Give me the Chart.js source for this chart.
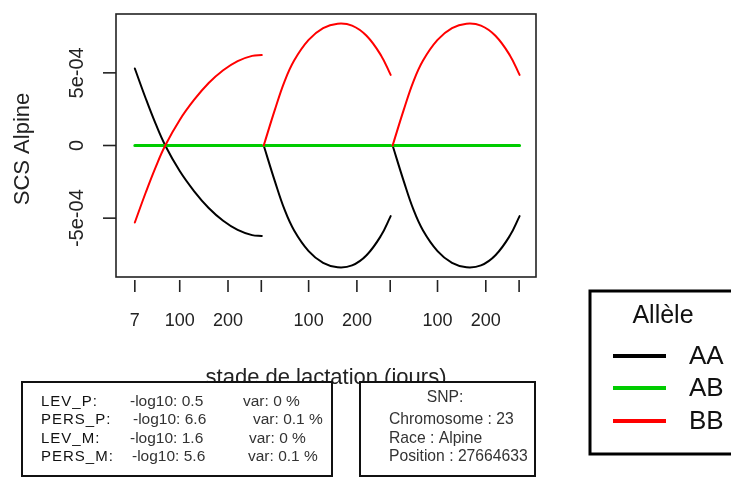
<!DOCTYPE html>
<html>
<head>
<meta charset="utf-8">
<script src="https://cdn.jsdelivr.net/npm/chart.js@4.4.1/dist/chart.umd.min.js"></script>
<style>
  body { margin: 0; background: #fff; }
  canvas { display: block; }
</style>
</head>
<body>
<canvas id="chart-scs" width="731" height="486"></canvas>
<script>
// days in lactation where values were read (same for each of the 3 lactations)
var days = [7, 30, 50, 70, 100, 130, 160, 190, 220, 250, 270];
var lactationShift = 267; // x offset between consecutive lactations

// SCS effect per allele, units of 1e-4, one array per lactation
var aaLact1 = [5.30, 3.20, 1.50, 0, -1.76, -3.15, -4.30, -5.18, -5.81, -6.17, -6.22];
var aaLact2 = [0, -2.45, -4.40, -5.85, -7.27, -8.08, -8.38, -8.25, -7.55, -6.20, -4.86];
var aaLact3 = [0, -2.45, -4.40, -5.85, -7.27, -8.08, -8.38, -8.25, -7.55, -6.20, -4.86];
var abLact1 = [0, 0, 0, 0, 0, 0, 0, 0, 0, 0, 0];
var abLact2 = [0, 0, 0, 0, 0, 0, 0, 0, 0, 0, 0];
var abLact3 = [0, 0, 0, 0, 0, 0, 0, 0, 0, 0, 0];
var bbLact1 = [-5.30, -3.20, -1.50, 0, 1.76, 3.15, 4.30, 5.18, 5.81, 6.17, 6.22];
var bbLact2 = [0, 2.45, 4.40, 5.85, 7.27, 8.08, 8.38, 8.25, 7.55, 6.20, 4.86];
var bbLact3 = [0, 2.45, 4.40, 5.85, 7.27, 8.08, 8.38, 8.25, 7.55, 6.20, 4.86];

// axis ticks
var xTicks = [7, 100, 200, 269, 367, 467, 536, 634, 734, 803];
var xTickLabels = ["7", "100", "200", "", "100", "200", "", "100", "200", ""];
var yTicks = [-5e-4, 0, 5e-4];
var yTickLabels = ["-5e-04", "0", "5e-04"];

// legend + info boxes
var alleles = ["AA", "AB", "BB"];
var alleleColors = ["#000000", "#00cc00", "#ff0000"];
var infoNames = ["LEV_P:", "PERS_P:", "LEV_M:", "PERS_M:"];
var infoLog10 = ["0.5", "6.6", "1.6", "5.6"];
var infoVar = ["0", "0.1", "0", "0.1"];
var snpLines = ["Chromosome : 23", "Race : Alpine", "Position : 27664633"];

var FONT = "'Liberation Sans', Arial, sans-serif";

function buildPoints(lacts) {
    var pts = [];
    lacts.forEach(function(vals, l) {
        if (l > 0) pts.push({ x: l * lactationShift, y: null });
        vals.forEach(function(v, i) {
            pts.push({ x: days[i] + l * lactationShift, y: v * 1e-4 });
        });
    });
    return pts;
}

var series = [
    buildPoints([aaLact1, aaLact2, aaLact3]),
    buildPoints([abLact1, abLact2, abLact3]),
    buildPoints([bbLact1, bbLact2, bbLact3])
];

var decorations = {
    id: "decorations",
    afterDraw: function(chart) {
        var ctx = chart.ctx;
        var area = chart.chartArea;
        var xs = chart.scales.x, ys = chart.scales.y;
        ctx.save();

        // plot box
        ctx.strokeStyle = "#222";
        ctx.lineWidth = 1.6;
        ctx.strokeRect(area.left, area.top, area.right - area.left, area.bottom - area.top);

        // x ticks
        ctx.fillStyle = "#222";
        ctx.font = "18px " + FONT;
        ctx.textAlign = "center";
        ctx.textBaseline = "middle";
        xTicks.forEach(function(v, i) {
            var px = xs.getPixelForValue(v);
            ctx.beginPath();
            ctx.moveTo(px, area.bottom + 3);
            ctx.lineTo(px, area.bottom + 15);
            ctx.stroke();
            if (xTickLabels[i]) ctx.fillText(xTickLabels[i], px, 321);
        });

        // y ticks
        ctx.font = "20px " + FONT;
        yTicks.forEach(function(v, i) {
            var py = ys.getPixelForValue(v);
            ctx.beginPath();
            ctx.moveTo(area.left - 13, py);
            ctx.lineTo(area.left, py);
            ctx.stroke();
            ctx.save();
            ctx.translate(77, py);
            ctx.rotate(-Math.PI / 2);
            ctx.fillText(yTickLabels[i], 0, 0);
            ctx.restore();
        });

        // axis titles
        ctx.font = "22px " + FONT;
        ctx.save();
        ctx.translate(23, 149);
        ctx.rotate(-Math.PI / 2);
        ctx.fillText("SCS Alpine", 0, 0);
        ctx.restore();
        ctx.textBaseline = "alphabetic";
        ctx.fillText("stade de lactation (jours)", 326, 384);

        // info boxes (white, covering the bottom of the x title)
        ctx.lineWidth = 2;
        ctx.strokeStyle = "#111";
        ctx.fillStyle = "#fff";
        ctx.fillRect(22, 382, 310, 94);
        ctx.strokeRect(22, 382, 310, 94);
        ctx.fillRect(360, 382, 175, 94);
        ctx.strokeRect(360, 382, 175, 94);

        var rowY = [402, 420, 439, 457];
        var logX = [130, 133, 130, 132];
        var varX = [243, 253, 249, 248];
        ctx.textAlign = "left";
        ctx.textBaseline = "middle";
        infoNames.forEach(function(name, i) {
            ctx.fillStyle = "#111";
            ctx.font = "15px " + FONT;
            ctx.letterSpacing = "1px";
            ctx.fillText(name, 41, rowY[i]);
            ctx.letterSpacing = "0px";
            ctx.fillStyle = "#333";
            ctx.font = "15.5px " + FONT;
            ctx.fillText("-log10: " + infoLog10[i], logX[i], rowY[i]);
            ctx.fillText("var: " + infoVar[i] + " %", varX[i], rowY[i]);
        });

        ctx.font = "15.7px " + FONT;
        ctx.textAlign = "center";
        ctx.fillText("SNP:", 445, 398);
        ctx.textAlign = "left";
        snpLines.forEach(function(t, i) {
            ctx.fillText(t, 389, rowY[i + 1]);
        });

        // legend
        ctx.strokeStyle = "#000";
        ctx.lineWidth = 3;
        ctx.strokeRect(590, 291, 200, 163);
        ctx.fillStyle = "#111";
        ctx.font = "25px " + FONT;
        ctx.textAlign = "center";
        ctx.fillText("Allèle", 663, 316);
        var legY = [356, 388, 421];
        ctx.font = "26px " + FONT;
        ctx.textAlign = "left";
        alleles.forEach(function(a, i) {
            ctx.strokeStyle = alleleColors[i];
            ctx.lineWidth = 4;
            ctx.beginPath();
            ctx.moveTo(613, legY[i]);
            ctx.lineTo(666, legY[i]);
            ctx.stroke();
            ctx.fillText(a, 689, legY[i] + 1);
        });

        ctx.restore();
    }
};

var ctx = document.getElementById("chart-scs");
var scsChart = new Chart(ctx, {
    type: "line",
    data: {
        datasets: [{
            label: alleles[0],
            data: series[0],
            borderColor: alleleColors[0],
            borderWidth: 2,
            order: 3
        }, {
            label: alleles[1],
            data: series[1],
            borderColor: alleleColors[1],
            borderWidth: 3,
            order: 2
        }, {
            label: alleles[2],
            data: series[2],
            borderColor: alleleColors[2],
            borderWidth: 2,
            order: 1
        }]
    },
    options: {
        responsive: false,
        animation: false,
        spanGaps: false,
        layout: { padding: { left: 116, top: 14, right: 195, bottom: 209 } },
        elements: {
            point: { radius: 0 },
            line: { tension: 0.4, fill: false, borderCapStyle: "round" }
        },
        scales: {
            x: { type: "linear", min: -32, max: 838, display: false },
            y: { type: "linear", min: -9.05e-4, max: 9.05e-4, display: false }
        },
        plugins: {
            legend: { display: false },
            tooltip: { enabled: false }
        }
    },
    plugins: [decorations]
});
</script>
</body>
</html>
